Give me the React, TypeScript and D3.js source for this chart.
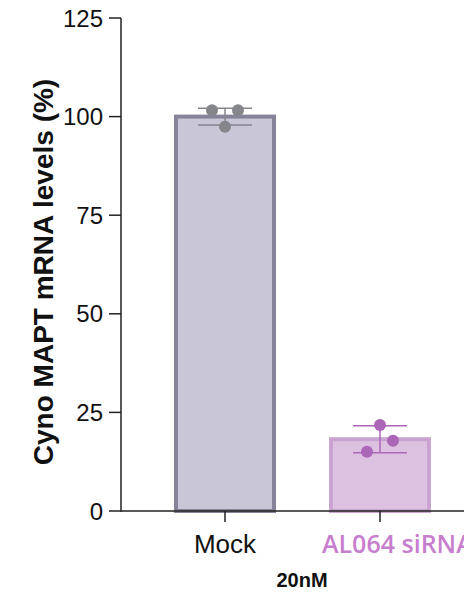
import React from "react";
import * as d3 from "d3";

const categories = ["Mock", "AL064 siRNA"];
const means = [100, 18.2];
const sds = [2.1, 3.4];
const replicates = [
  [101.6, 97.4, 101.6],
  [15.0, 21.8, 17.8],
];
const dotOffsets = [
  [-13, 0, 13],
  [-13, 0, 13],
];
const yTicks = [0, 25, 50, 75, 100, 125];
const fills = ["#c9c7d7", "#dcc2e0"];
const strokes = ["#85849a", "#caa4d1"];
const dotColors = ["#85858c", "#ab66b7"];
const errColors = ["#85858c", "#ab66b7"];
const labelColors = ["#111", "#c87ece"];

export default function App() {
  const W = 464, H = 592;
  const y = d3.scaleLinear().domain([0, 125]).range([511, 18]);
  const x = d3.scalePoint<string>().domain(categories).range([225, 380]);
  const bw = 98;
  const axisX = 121;
  const font = "Liberation Sans, Arial, sans-serif";
  return (
    <svg width={W} height={H} style={{ position: "absolute", left: 0, top: 0, background: "#fff" }}>
      {categories.map((c, i) => {
        const cx = x(c)!;
        return (
          <g key={c}>
            <rect x={cx - bw / 2} y={y(means[i])} width={bw} height={y(0) - y(means[i])}
              fill={fills[i]} stroke={strokes[i]} strokeWidth={4} />
            <line x1={cx} x2={cx} y1={y(means[i] + sds[i])} y2={y(means[i] - sds[i])} stroke={errColors[i]} strokeWidth={1.5} />
            <line x1={cx - 27} x2={cx + 27} y1={y(means[i] + sds[i])} y2={y(means[i] + sds[i])} stroke={errColors[i]} strokeWidth={1.5} />
            <line x1={cx - 27} x2={cx + 27} y1={y(means[i] - sds[i])} y2={y(means[i] - sds[i])} stroke={errColors[i]} strokeWidth={1.5} />
            {replicates[i].map((v, j) => (
              <circle key={j} cx={cx + dotOffsets[i][j]} cy={y(v)} r={6} fill={dotColors[i]} />
            ))}
          </g>
        );
      })}
      <line x1={axisX} x2={axisX} y1={y(125)} y2={y(0) + 0.75} stroke="#222" strokeWidth={1.5} />
      <line x1={axisX} x2={W} y1={y(0)} y2={y(0)} stroke="#222" strokeWidth={1.5} />
      {yTicks.map((t) => (
        <g key={t}>
          <line x1={axisX - 12} x2={axisX} y1={y(t)} y2={y(t)} stroke="#222" strokeWidth={1.5} />
          <text x={axisX - 18} y={y(t)} dy="0.36em" textAnchor="end" fontFamily={font} fontSize={24} fill="#111">{t}</text>
        </g>
      ))}
      {categories.map((c, i) => (
        <g key={c}>
          <line x1={x(c)!} x2={x(c)!} y1={y(0)} y2={y(0) + 11} stroke="#222" strokeWidth={1.5} />
          <text x={i === 0 ? x(c)! : 322} y={553} textAnchor={i === 0 ? "middle" : "start"}
            fontFamily={i === 0 ? font : "Open Sans, sans-serif"} fontWeight={i === 0 ? 400 : 600}
            fontSize={i === 0 ? 26 : 25} fill={labelColors[i]}>{c}</text>
        </g>
      ))}
      <text x={302} y={587} textAnchor="middle" fontFamily={font} fontWeight={700} fontSize={20} fill="#111">20nM</text>
      <text transform={`translate(53, ${272}) rotate(-90)`} textAnchor="middle" fontFamily={font} fontWeight={700} fontSize={28} fill="#111">
        Cyno MAPT mRNA levels (%)
      </text>
    </svg>
  );
}
